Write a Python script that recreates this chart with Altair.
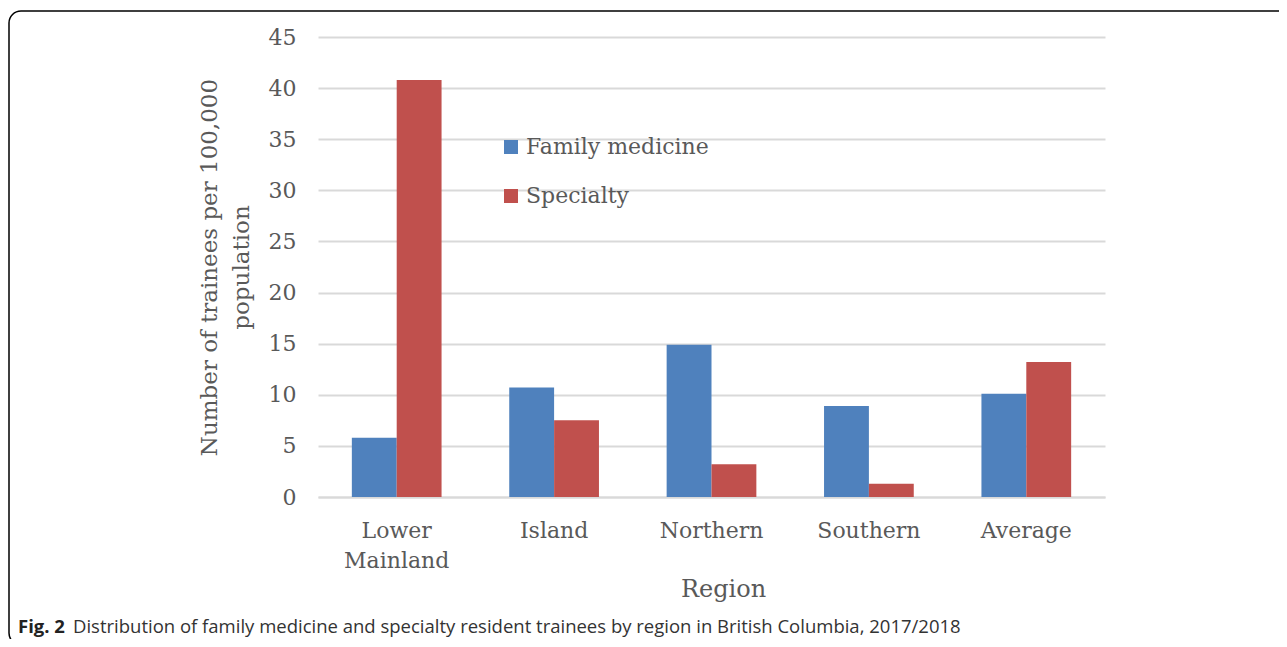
import altair as alt
import pandas as pd

regions = ["Lower Mainland", "Island", "Northern", "Southern", "Average"]
family_medicine = [5.8, 10.7, 14.9, 8.9, 10.1]
specialty = [40.8, 7.5, 3.2, 1.3, 13.2]
series = ["Family medicine", "Specialty"]
colors = ["#4f81bd", "#c0504d"]
y_ticks = [0, 5, 10, 15, 20, 25, 30, 35, 40, 45]

rows = []
for r, fm, sp in zip(regions, family_medicine, specialty):
    rows.append({"Region": r, "Series": series[0], "Value": fm})
    rows.append({"Region": r, "Series": series[1], "Value": sp})
df = pd.DataFrame(rows)

SERIF = "DejaVu Serif"
GRAY = "#595959"

bars = alt.Chart(df).mark_bar().encode(
    x=alt.X("Region:N", sort=regions,
            scale=alt.Scale(paddingInner=0.43, paddingOuter=0.215),
            axis=alt.Axis(title="Region", labelAngle=0, labelFont=SERIF, labelFontSize=22,
                          labelColor=GRAY, labelPadding=23, labelLineHeight=30,
                          labelExpr="datum.label == 'Lower Mainland' ? ['Lower', 'Mainland'] : datum.label",
                          ticks=False, grid=False, domain=True, domainColor="#d9d9d9", domainWidth=2,
                          titleFont=SERIF, titleFontSize=24, titleFontWeight="normal",
                          titleColor=GRAY, titlePadding=6, titleX=405, titleAlign="center")),
    xOffset=alt.XOffset("Series:N", sort=series),
    y=alt.Y("Value:Q", scale=alt.Scale(domain=[0, 45]),
            axis=alt.Axis(values=y_ticks, title=["Number of trainees per 100,000", "population"],
                          labelFont=SERIF, labelFontSize=22, labelColor=GRAY, labelPadding=22,
                          ticks=False, domain=False, grid=True, gridColor="#d9d9d9", gridWidth=2,
                          titleFont=SERIF, titleFontSize=23, titleFontWeight="normal",
                          titleColor=GRAY, titlePadding=15, titleLineHeight=32)),
    color=alt.Color("Series:N", sort=series,
                    scale=alt.Scale(domain=series, range=colors),
                    legend=alt.Legend(title=None, orient="none", legendX=182, legendY=99,
                                      symbolType="square", symbolSize=196, symbolStrokeWidth=0,
                                      labelFont=SERIF, labelFontSize=22, labelColor=GRAY,
                                      labelLimit=400, rowPadding=27, labelOffset=4)),
)

frame_df = pd.DataFrame({"k": [1]})
frame = alt.Chart(frame_df).mark_rect(
    fill=None, stroke="#000000", strokeWidth=1.5, cornerRadius=12
).encode(
    x=alt.value(-309), x2=alt.value(1000), y=alt.value(-26), y2=alt.value(608)
)

cap_bold = alt.Chart(pd.DataFrame({"t": ["Fig. 2"]})).mark_text(
    font="Open Sans", fontSize=18.5, fontWeight="bold", align="left", baseline="alphabetic",
    color="#222222"
).encode(text="t:N", x=alt.value(-300), y=alt.value(596))

cap_rest = alt.Chart(pd.DataFrame({"t": ["Distribution of family medicine and specialty resident trainees by region in British Columbia, 2017/2018"]})).mark_text(
    font="Open Sans", fontSize=18.5, align="left", baseline="alphabetic", color="#333333"
).encode(text="t:N", x=alt.value(-245), y=alt.value(596))

chart = alt.layer(frame, bars, cap_bold, cap_rest).properties(
    width=787, height=460,
    background="white",
    autosize=alt.AutoSizeParams(type="none"),
    padding={"left": 310, "top": 29, "right": 174, "bottom": 142},
).configure_view(stroke="transparent", strokeWidth=0)

chart.save("out.html", embed_options={"renderer": "svg", "actions": False})
